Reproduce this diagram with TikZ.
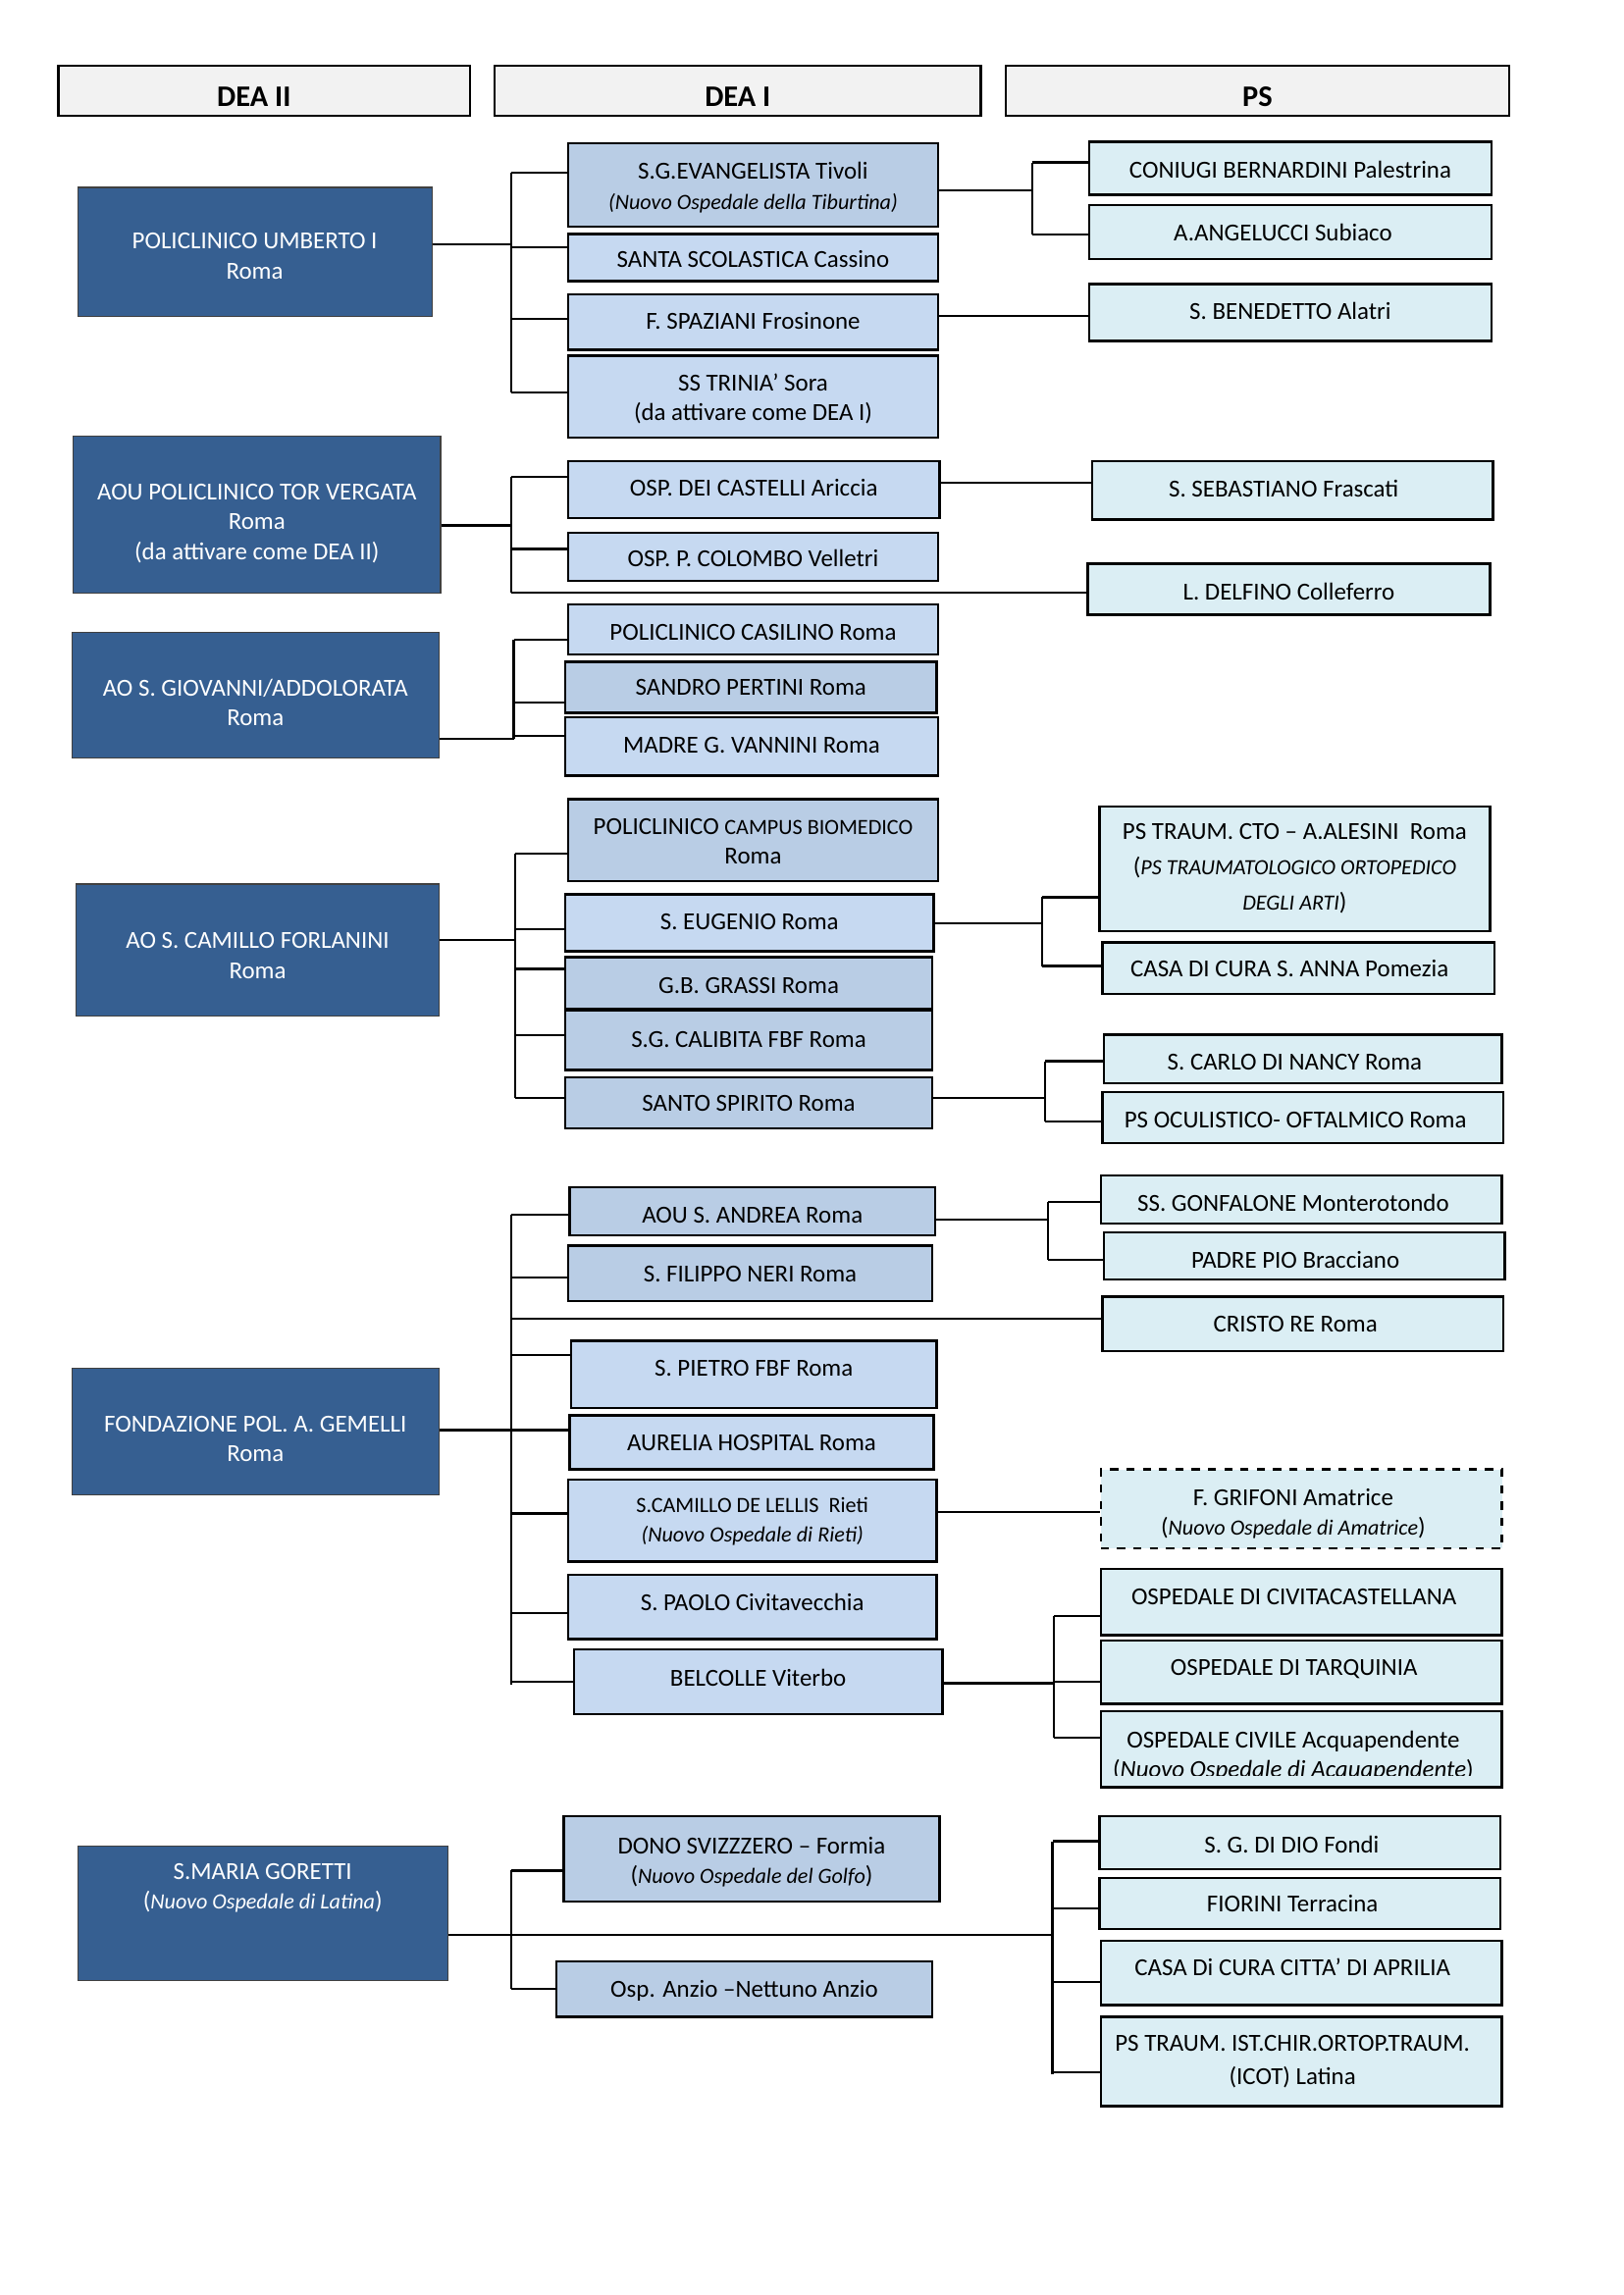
\documentclass[tikz,border=0pt]{standalone}
\usepackage{fontspec}
\setmainfont{Carlito}
\newlength{\pxu}\setlength{\pxu}{0.18942mm}
\definecolor{dkblue}{HTML}{365F91}
\definecolor{lightA}{HTML}{B9CDE5}
\definecolor{lightB}{HTML}{C6D9F1}
\definecolor{psblue}{HTML}{DBEEF4}
\definecolor{hdrgray}{HTML}{F2F2F2}
% \mybox{name}{style}{x1}{y1}{x2}{y2}{dx}{dy}{text}
\newcommand\mybox[9]{\node[#2, inner sep=0pt, minimum width={(#5-#3)*\pxu}, minimum height={(#6-#4)*\pxu}] (#1) at ({(#3+#5)/2},{(#4+#6)/2}) {};
  \node[#2 text] at ([shift={(#7,#8)}]#1.center) {#9};}
\newcommand\brn[3]{\draw[link] (#1 |- 0,#3) -- (#2.west |- 0,#3);}
\newcommand\vln[3]{\draw[link] (#1 |- 0,#2) -- (#1 |- 0,#3);}
\newcommand\mainl[2]{\draw[link] (#1.east |- #2) -- (#2);}
\newcommand\smf{\fontsize{8}{10}\selectfont}
\begin{document}
\begin{tikzpicture}[x=0.18942mm,y=-0.18942mm,
  base/.style={font=\fontsize{9}{11}\selectfont, align=center, inner sep=0pt},
  hdr/.style={draw=black, line width=0.9pt, fill=hdrgray},
  hdr text/.style={base, font=\fontsize{11}{13}\selectfont\bfseries},
  dk/.style={draw=black!75, line width=0.4pt, fill=dkblue},
  dk text/.style={base, text=white},
  la/.style={draw=black, line width=0.9pt, fill=lightA},
  la text/.style={base},
  lb/.style={draw=black, line width=0.9pt, fill=lightB},
  lb text/.style={base},
  ps/.style={draw=black, line width=0.9pt, fill=psblue},
  ps text/.style={base},
  psd/.style={draw=black, line width=0.9pt, dashed, fill=psblue},
  psd text/.style={base},
  txt/.style={base},
  link/.style={line width=0.8pt, black}]
\useasboundingbox (0,0) rectangle (1109,1568);

% headers
\mybox{hdea2}{hdr}{40}{45}{321}{79}{-7}{4}{DEA II}
\mybox{hdea1}{hdr}{338}{45}{670}{79}{0}{4}{DEA I}
\mybox{hps}{hdr}{687}{45}{1031}{79}{0}{4}{PS}

% DEA II
\mybox{umb}{dk}{53}{128}{295}{216}{0}{3}{POLICLINICO UMBERTO I\\Roma}
\mybox{torv}{dk}{50}{298}{301}{405}{0}{6}{AOU POLICLINICO TOR VERGATA\\Roma\\(da attivare come DEA II)}
\mybox{giov}{dk}{49}{432}{300}{518}{0}{5}{AO S. GIOVANNI/ADDOLORATA\\Roma}
\mybox{cam}{dk}{52}{604}{300}{694}{0}{4}{AO S. CAMILLO FORLANINI\\Roma}
\mybox{gem}{dk}{49}{935}{300}{1021}{0}{5}{FONDAZIONE POL. A. GEMELLI\\Roma}
\mybox{gor}{dk}{53}{1261}{306}{1353}{0}{-17}{S.MARIA GORETTI\\({\smf\itshape Nuovo Ospedale di Latina})}

% DEA I
\mybox{sge}{la}{388}{98}{641}{155}{0}{1.5}{S.G.EVANGELISTA Tivoli\\{\smf\itshape (Nuovo Ospedale della Tiburtina)}}
\mybox{scol}{lb}{388}{160}{641}{192}{0}{1}{SANTA SCOLASTICA Cassino}
\mybox{spaz}{lb}{388}{201}{641}{239}{0}{-1}{F. SPAZIANI Frosinone}
\mybox{trin}{lb}{388}{243}{641}{299}{0}{1.5}{SS TRINIA’ Sora\\(da attivare come DEA I)}
\mybox{cast}{lb}{388}{315}{642}{354}{0}{-1}{OSP. DEI CASTELLI Ariccia}
\mybox{colo}{lb}{388}{364}{641}{397}{0}{1}{OSP. P. COLOMBO Velletri}
\mybox{casi}{lb}{388}{413}{641}{447}{0}{2}{POLICLINICO CASILINO Roma}
\mybox{pert}{la}{386}{452}{640}{487}{0}{0}{SANDRO PERTINI Roma}
\mybox{vann}{lb}{386}{490}{641}{530}{0}{-1}{MADRE G. VANNINI Roma}
\mybox{camp}{la}{388}{546}{641}{602}{0}{1}{POLICLINICO {\smf CAMPUS BIOMEDICO}\\Roma}
\mybox{euge}{lb}{386}{611}{638}{650}{0}{-1}{S. EUGENIO Roma}
\mybox{gras}{la}{386}{654}{637}{689}{0}{2}{G.B. GRASSI Roma}
\mybox{cali}{la}{386}{690}{637}{731}{0}{0}{S.G. CALIBITA FBF Roma}
\mybox{spir}{la}{386}{736}{637}{771}{0}{0}{SANTO SPIRITO Roma}
\mybox{andr}{la}{389}{811}{639}{844}{0}{3}{AOU S. ANDREA Roma}
\mybox{fili}{la}{388}{851}{637}{889}{0}{0.5}{S. FILIPPO NERI Roma}
\mybox{piet}{lb}{390}{916}{640}{962}{0}{-4}{S. PIETRO FBF Roma}
\mybox{aure}{lb}{389}{967}{638}{1004}{0}{0.5}{AURELIA HOSPITAL Roma}
\mybox{lell}{lb}{388}{1011}{640}{1067}{0}{0.5}{{\smf S.CAMILLO DE LELLIS\ \ Rieti}\\{\smf\itshape (Nuovo Ospedale di Rieti)}}
\mybox{paol}{lb}{388}{1076}{640}{1120}{0}{-3}{S. PAOLO Civitavecchia}
\mybox{belc}{lb}{392}{1127}{644}{1171}{0}{-3}{BELCOLLE Viterbo}
\mybox{dono}{la}{385}{1241}{642}{1299}{0}{2}{DONO SVIZZZERO – Formia\\({\smf\itshape Nuovo Ospedale del Golfo})}
\mybox{anzi}{la}{380}{1340}{637}{1378}{0}{1}{Osp. Anzio –Nettuno Anzio}

% PS
\mybox{coni}{ps}{744}{97}{1019}{133}{0}{1}{CONIUGI BERNARDINI Palestrina}
\mybox{ange}{ps}{744}{140}{1019}{177}{-5}{0}{A.ANGELUCCI Subiaco}
\mybox{bene}{ps}{744}{194}{1019}{233}{0}{-1}{S. BENEDETTO Alatri}
\mybox{seba}{ps}{746}{315}{1020}{355}{-6}{-1}{S. SEBASTIANO Frascati}
\mybox{delf}{ps}{743}{385}{1018}{420}{0}{2}{L. DELFINO Colleferro}
\mybox{cto}{ps}{751}{551}{1018}{636}{0}{0}{PS TRAUM. CTO – A.ALESINI\ \ Roma\\[2pt]({\smf\itshape PS TRAUMATOLOGICO ORTOPEDICO}\\[2pt]{\smf\itshape DEGLI ARTI})}
\mybox{anna}{ps}{753}{644}{1021}{679}{-6}{0}{CASA DI CURA S. ANNA Pomezia}
\mybox{carl}{ps}{754}{707}{1026}{740}{-5.5}{2}{S. CARLO DI NANCY Roma}
\mybox{ocul}{ps}{753}{746}{1027}{781}{-5}{2}{PS OCULISTICO- OFTALMICO Roma}
\mybox{gonf}{ps}{752}{803}{1026}{836}{-5.5}{2}{SS. GONFALONE Monterotondo}
\mybox{padr}{ps}{754}{842}{1028}{874}{-6}{3}{PADRE PIO Bracciano}
\mybox{cris}{ps}{753}{886}{1027}{923}{-5}{0}{CRISTO RE Roma}
\mybox{grif}{psd}{752}{1004}{1026}{1058}{-5.5}{3}{F. GRIFONI Amatrice\\({\smf\itshape Nuovo Ospedale di Amatrice})}
\mybox{civi}{ps}{752}{1072}{1026}{1117}{-5}{-3.5}{OSPEDALE DI CIVITACASTELLANA}
\mybox{tarq}{ps}{752}{1121}{1026}{1164}{-5}{-2.5}{OSPEDALE DI TARQUINIA}
\mybox{acqu}{ps}{752}{1169}{1026}{1221}{0}{0}{}
\begin{scope}
\clip (752,1169) rectangle (1026,1213);
\node[txt] at ([shift={(-5.5,5)}]acqu.center) {OSPEDALE CIVILE Acquapendente\\({\itshape Nuovo Ospedale di Acquapendente})};
\end{scope}
\mybox{fond}{ps}{751}{1241}{1025}{1277}{-5.5}{1}{S. G. DI DIO Fondi}
\mybox{fior}{ps}{751}{1283}{1025}{1318}{-5}{0}{FIORINI Terracina}
\mybox{apri}{ps}{752}{1326}{1026}{1370}{-6}{-4}{CASA Di CURA CITTA’ DI APRILIA}
\mybox{icot}{ps}{752}{1378}{1026}{1439}{-6}{0}{PS TRAUM. IST.CHIR.ORTOP.TRAUM.\\[1.5pt](ICOT) Latina}

% connectors group 1
\coordinate (h1) at (349,167);
\mainl{umb}{h1}
\vln{h1}{118}{268}
\brn{h1}{sge}{118} \brn{h1}{scol}{169} \brn{h1}{spaz}{218} \brn{h1}{trin}{268}
\coordinate (p1) at (705,130);
\mainl{sge}{p1}
\vln{p1}{111}{160}
\brn{p1}{coni}{111} \brn{p1}{ange}{160}
\draw[link] (spaz.east |- 0,216) -- (bene.west |- 0,216);

% group 2
\coordinate (h2) at (349,359);
\mainl{torv}{h2}
\vln{h2}{326}{405}
\brn{h2}{cast}{326} \brn{h2}{colo}{375} \brn{h2}{delf}{405}
\draw[link] (cast.east |- 0,330) -- (seba.west |- 0,330);

% group 3
\coordinate (h3) at (351,505);
\mainl{giov}{h3}
\vln{h3}{437}{505}
\brn{h3}{casi}{437} \brn{h3}{pert}{480} \brn{h3}{vann}{503}

% group 4
\coordinate (h4) at (352,642);
\mainl{cam}{h4}
\vln{h4}{583}{750}
\brn{h4}{camp}{583} \brn{h4}{euge}{635} \brn{h4}{gras}{662} \brn{h4}{cali}{707} \brn{h4}{spir}{750}
\coordinate (p2) at (712,631);
\mainl{euge}{p2}
\vln{p2}{613}{660}
\brn{p2}{cto}{613} \brn{p2}{anna}{660}
\coordinate (p3) at (714,750);
\mainl{spir}{p3}
\vln{p3}{725}{766}
\brn{p3}{carl}{725} \brn{p3}{ocul}{766}

% group 5
\coordinate (h5) at (349,977);
\mainl{gem}{h5}
\vln{h5}{830}{1151}
\brn{h5}{andr}{830} \brn{h5}{fili}{873} \brn{h5}{cris}{901} \brn{h5}{piet}{926}
\brn{h5}{aure}{977} \brn{h5}{lell}{1034} \brn{h5}{paol}{1102} \brn{h5}{belc}{1149}
\coordinate (p4) at (716,833);
\mainl{andr}{p4}
\vln{p4}{821}{861}
\brn{p4}{gonf}{821} \brn{p4}{padr}{861}
\draw[link] (lell.east |- 0,1033) -- (grif.west |- 0,1033);
\coordinate (p5) at (720,1150);
\mainl{belc}{p5}
\vln{p5}{1104}{1187}
\brn{p5}{civi}{1104} \brn{p5}{tarq}{1149} \brn{p5}{acqu}{1187}

% group 6
\coordinate (h6) at (349,1322);
\mainl{gor}{h6}
\vln{h6}{1278}{1359}
\brn{h6}{dono}{1278} \brn{h6}{anzi}{1359}
\coordinate (p6) at (719,1322);
\draw[link] (h6) -- (p6);
\vln{p6}{1258}{1417}
\brn{p6}{fond}{1258} \brn{p6}{fior}{1304} \brn{p6}{apri}{1354} \brn{p6}{icot}{1416}
\end{tikzpicture}
\end{document}
